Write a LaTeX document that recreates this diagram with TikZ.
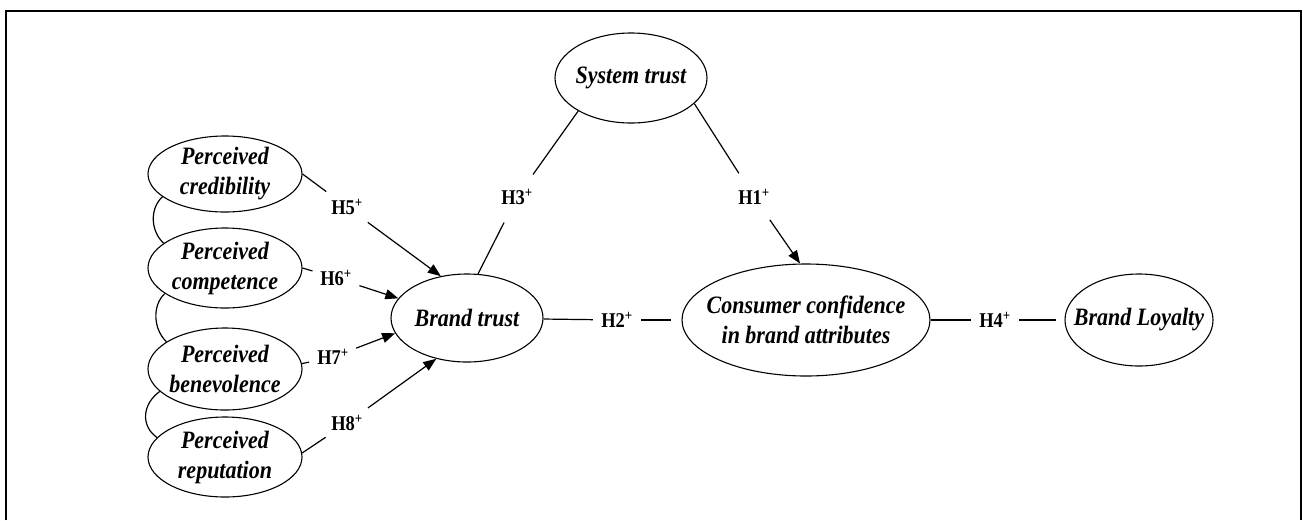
\documentclass[tikz,border=0pt]{standalone}
\usepackage{fontspec}
\newfontfamily\nfont[FakeStretch=0.88]{Liberation Serif}
\usetikzlibrary{shapes.geometric,arrows.meta}
\begin{document}
\begin{tikzpicture}[x=1pt,y=-1pt,
  con/.style={ellipse,draw,line width=1.1pt,inner xsep=-20pt,inner ysep=-6pt,align=center,
    font=\nfont\fontsize{25}{30}\selectfont\bfseries\itshape},
  hyp/.style={ellipse,inner sep=0pt,minimum width=48pt,minimum height=60pt,
    font=\nfont\fontsize{21}{24}\selectfont\bfseries},
  ln/.style={line width=1.2pt},
  arr/.style={line width=1.2pt,-{Triangle[length=13pt,width=10pt]}}]
\useasboundingbox (0,0) rectangle (1303,520);
\draw[line width=2.5pt] (6,520) -- (6,11) -- (1301,11) -- (1301,520);

% constructs
\node[con,minimum width=154pt,minimum height=76pt] (cred) at (225,174) {Perceived\\credibility};
\node[con,minimum width=154pt,minimum height=80pt] (comp) at (225,268) {Perceived\\competence};
\node[con,minimum width=154pt,minimum height=82pt] (bene) at (225,369) {Perceived\\benevolence};
\node[con,minimum width=154pt,minimum height=80pt] (repu) at (225,457) {Perceived\\reputation};
\node[con,minimum width=152pt,minimum height=88pt] (bt) at (467,318) {Brand trust};
\node[con,minimum width=152pt,minimum height=90pt] (sys) at (631,78) {System trust};
\node[con,minimum width=248pt,minimum height=112pt] (cons) at (806,320) {Consumer confidence\\in brand attributes};
\node[con,minimum width=148pt,minimum height=92pt] (bl) at (1139,320) {Brand Loyalty};

% hypothesis labels
\node[hyp] (h5) at (347,207) {H5\textsuperscript{+}};
\node[hyp] (h6) at (336,278) {H6\textsuperscript{+}};
\node[hyp] (h7) at (333,357) {H7\textsuperscript{+}};
\node[hyp] (h8) at (347,423) {H8\textsuperscript{+}};
\node[hyp] (h3) at (517,197) {H3\textsuperscript{+}};
\node[hyp] (h1) at (754,197) {H1\textsuperscript{+}};
\node[hyp] (h2) at (617,320) {H2\textsuperscript{+}};
\node[hyp] (h4) at (995,320) {H4\textsuperscript{+}};

% correlations between antecedents
\draw[ln] (cred.200) .. controls +(-13,12) and +(-13,-12) .. (comp.158);
\draw[ln] (comp.203) .. controls +(-13,12) and +(-13,-12) .. (bene.155);
\draw[ln] (bene.199) .. controls +(-17,12) and +(-17,-12) .. (repu.164);

% antecedents to brand trust
\draw[ln] (cred.east) -- (h5);
\draw[arr] (h5) -- (bt.122);
\draw[ln] (comp.east) -- (h6);
\draw[arr] (h6) -- (bt.164);
\draw[ln] (bene.4) -- (h7);
\draw[arr] (h7) -- (bt.192);
\draw[ln] (repu.3) -- (h8);
\draw[arr] (h8) -- (bt.233);

% system trust
\draw[ln] (sys.212) -- (h3);
\draw[ln] (h3) -- (bt.76);
\draw[ln] (sys.338) -- (h1);
\draw[arr] (h1) -- (cons.96);

% main chain
\draw[ln] (bt) -- (h2);
\draw[ln,shorten >=10pt] (h2) -- (cons);
\draw[ln] (cons) -- (h4);
\draw[ln,shorten >=8pt] (h4) -- (bl);
\end{tikzpicture}
\end{document}
